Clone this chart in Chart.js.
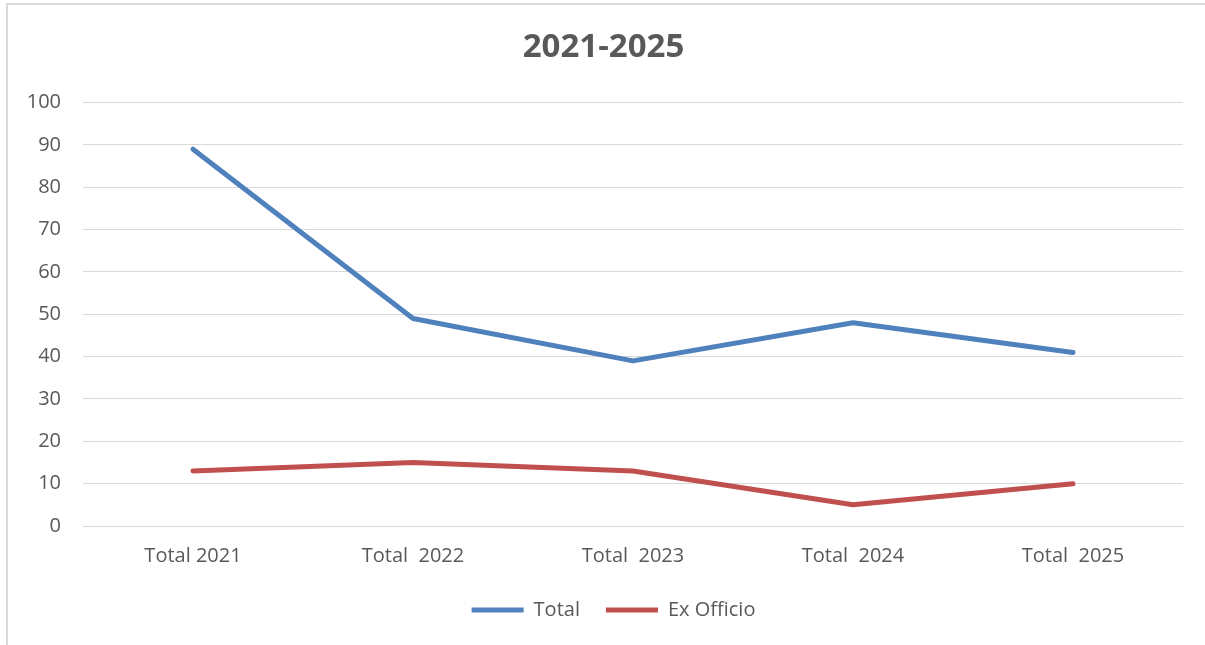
<!DOCTYPE html>
<html>
<head>
<meta charset="utf-8">
<script src="https://cdn.jsdelivr.net/npm/chart.js@4.4.1/dist/chart.umd.min.js"></script>
<style>
  html, body { margin: 0; padding: 0; background: #ffffff; overflow: hidden; }
  #wrap { position: relative; width: 1205px; height: 645px; }
  #frame { position: absolute; left: 6px; top: 3px; width: 1300px; height: 700px;
           border-top: 2px solid #d9d9d9; border-left: 2px solid #d9d9d9; box-sizing: border-box; }
  canvas { position: absolute; left: 0; top: 0; }
</style>
</head>
<body>
<div id="wrap">
  <div id="frame"></div>
  <canvas id="c" width="1205" height="645"></canvas>
</div>
<script>
const chartTitle = "2021-2025";
const categories = ["Total 2021", "Total  2022", "Total  2023", "Total  2024", "Total  2025"];
const totalValues = [89, 49, 39, 48, 41];
const exOfficioValues = [13, 15, 13, 5, 10];
const seriesNames = ["Total", "Ex Officio"];
const seriesColors = ["#4F81BD", "#C0504D"];

const baseFont = "'Open Sans', 'Noto Sans', sans-serif";
const textColor = "#595959";
const gridColor = "#d9d9d9";

// nudges the centred legend a little to the right, as in the reference
const legendShift = {
  id: "legendShift",
  beforeDraw(chart) {
    const lg = chart.legend;
    if (lg && !lg._shifted) { lg.left += 10; lg.right += 10; lg._shifted = true; }
  },
  afterLayout(chart) { if (chart.legend) chart.legend._shifted = false; }
};

new Chart(document.getElementById("c"), {
  type: "line",
  data: {
    labels: categories,
    datasets: [
      { label: seriesNames[0], data: totalValues, borderColor: seriesColors[0], backgroundColor: seriesColors[0],
        borderWidth: 5, pointRadius: 0, tension: 0, borderCapStyle: "round", borderJoinStyle: "round" },
      { label: seriesNames[1], data: exOfficioValues, borderColor: seriesColors[1], backgroundColor: seriesColors[1],
        borderWidth: 5, pointRadius: 0, tension: 0, borderCapStyle: "round", borderJoinStyle: "round" }
    ]
  },
  plugins: [legendShift],
  options: {
    responsive: false,
    animation: false,
    devicePixelRatio: 1,
    layout: { padding: { left: 24, right: 22, top: 0, bottom: 15 } },
    plugins: {
      title: {
        display: true, text: chartTitle, color: textColor,
        font: { family: baseFont, size: 33, weight: "bold" },
        padding: { top: 28, bottom: 35 }
      },
      legend: {
        position: "bottom",
        labels: {
          color: textColor,
          font: { family: baseFont, size: 20 },
          usePointStyle: true,
          pointStyle: "line",
          pointStyleWidth: 52,
          boxHeight: 20,
          padding: 26
        }
      },
      tooltip: { enabled: false }
    },
    scales: {
      x: {
        offset: true,
        grid: { display: false, drawTicks: false },
        border: { display: true, color: gridColor, width: 1 },
        ticks: { color: textColor, font: { family: baseFont, size: 20 }, padding: 18, maxRotation: 0 },
        afterFit: (s) => { s.height = 48; }
      },
      y: {
        min: 0, max: 100,
        grid: { color: gridColor, lineWidth: 1, drawTicks: false },
        border: { display: false },
        ticks: { stepSize: 10, color: textColor, font: { family: baseFont, size: 20 }, padding: 22 },
        afterFit: (s) => { s.width = 59; }
      }
    }
  }
});
</script>
</body>
</html>
